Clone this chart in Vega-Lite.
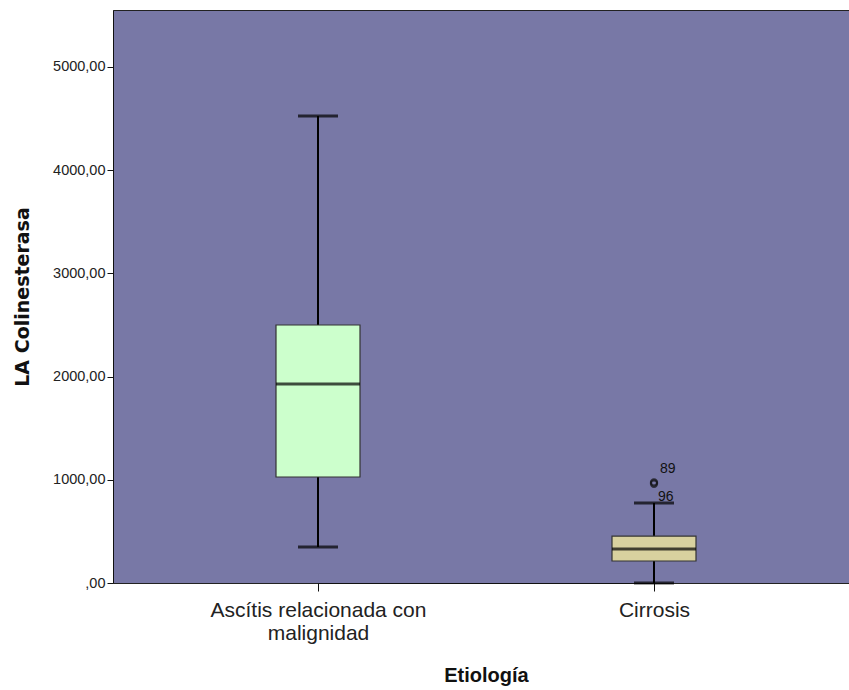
{
  "$schema": "https://vega.github.io/schema/vega-lite/v6.json",
  "width": 736,
  "height": 573,
  "autosize": {"type": "none"},
  "padding": {"left": 113, "top": 10, "right": 0, "bottom": 107},
  "background": "white",
  "config": {
    "view": {"fill": "#7878A6", "stroke": "#222222", "strokeWidth": 1},
    "font": "Liberation Sans"
  },
  "datasets": {
    "boxes": [
      {"Etiologia": "Ascítis relacionada con malignidad", "min": 349, "q1": 1027, "median": 1928, "q3": 2500, "max": 4525},
      {"Etiologia": "Cirrosis", "min": 0, "q1": 213, "median": 330, "q3": 455, "max": 775}
    ],
    "outliers": [
      {"Etiologia": "Cirrosis", "value": 975, "case": "89"},
      {"Etiologia": "Cirrosis", "value": 962, "case": "96"}
    ]
  },
  "encoding": {
    "x": {
      "field": "Etiologia",
      "type": "nominal",
      "sort": null,
      "scale": {"type": "point", "range": [205, 541], "padding": 0},
      "axis": {
        "title": "Etiología",
        "titleFontSize": 20,
        "titleFontWeight": "bold",
        "titleColor": "#111111",
        "titlePadding": 22,
        "labelFontSize": 21,
        "labelColor": "#222222",
        "labelAngle": 0,
        "labelPadding": 8,
        "labelLineHeight": 23,
        "labelLimit": 500,
        "labelExpr": "datum.value == 'Ascítis relacionada con malignidad' ? ['Ascítis relacionada con', 'malignidad'] : datum.value",
        "tickSize": 8,
        "tickColor": "#111111",
        "domainColor": "#111111",
        "grid": false
      }
    }
  },
  "layer": [
    {
      "data": {"name": "boxes"},
      "mark": {"type": "rule", "color": "#000000", "strokeWidth": 2},
      "encoding": {
        "y": {
          "field": "min",
          "type": "quantitative",
          "scale": {"domain": [0, 5552], "nice": false, "zero": true},
          "axis": {
            "title": "LA Colinesterasa",
            "titleFont": "DejaVu Sans",
            "titleFontSize": 19,
            "titleFontWeight": "bold",
            "titleColor": "#111111",
            "titlePadding": 20,
            "values": [0, 1000, 2000, 3000, 4000, 5000],
            "labelExpr": "datum.value == 0 ? ',00' : replace(format(datum.value, '.2f'), '.', ',')",
            "labelFontSize": 14.5,
            "labelColor": "#222222",
            "labelPadding": 2,
            "tickSize": 6,
            "tickColor": "#111111",
            "domainColor": "#111111",
            "grid": false
          }
        },
        "y2": {"field": "max"}
      }
    },
    {
      "data": {"name": "boxes"},
      "mark": {"type": "tick", "color": "#000000", "thickness": 3, "size": 40},
      "encoding": {"y": {"field": "max", "type": "quantitative"}}
    },
    {
      "data": {"name": "boxes"},
      "mark": {"type": "tick", "color": "#000000", "thickness": 3, "size": 40},
      "encoding": {"y": {"field": "min", "type": "quantitative"}}
    },
    {
      "data": {"name": "boxes"},
      "mark": {"type": "bar", "size": 84, "stroke": "#333333", "strokeWidth": 1.2},
      "encoding": {
        "y": {"field": "q1", "type": "quantitative"},
        "y2": {"field": "q3"},
        "fill": {
          "field": "Etiologia",
          "type": "nominal",
          "scale": {"range": ["#CCFFCC", "#D8D19F"]},
          "legend": null
        }
      }
    },
    {
      "data": {"name": "boxes"},
      "mark": {"type": "tick", "color": "#000000", "thickness": 3, "size": 84},
      "encoding": {"y": {"field": "median", "type": "quantitative"}}
    },
    {
      "data": {"name": "outliers"},
      "mark": {"type": "point", "shape": "circle", "size": 40, "stroke": "#111111", "strokeWidth": 2, "filled": false},
      "encoding": {"y": {"field": "value", "type": "quantitative"}}
    },
    {
      "data": {"name": "outliers"},
      "transform": [{"filter": "datum.case == '89'"}],
      "mark": {"type": "text", "align": "left", "dx": 6, "dy": -13, "fontSize": 14, "color": "#111111"},
      "encoding": {"y": {"field": "value", "type": "quantitative"}, "text": {"field": "case"}}
    },
    {
      "data": {"name": "outliers"},
      "transform": [{"filter": "datum.case == '96'"}],
      "mark": {"type": "text", "align": "left", "dx": 4, "dy": 13, "fontSize": 14, "color": "#111111"},
      "encoding": {"y": {"field": "value", "type": "quantitative"}, "text": {"field": "case"}}
    }
  ]
}
